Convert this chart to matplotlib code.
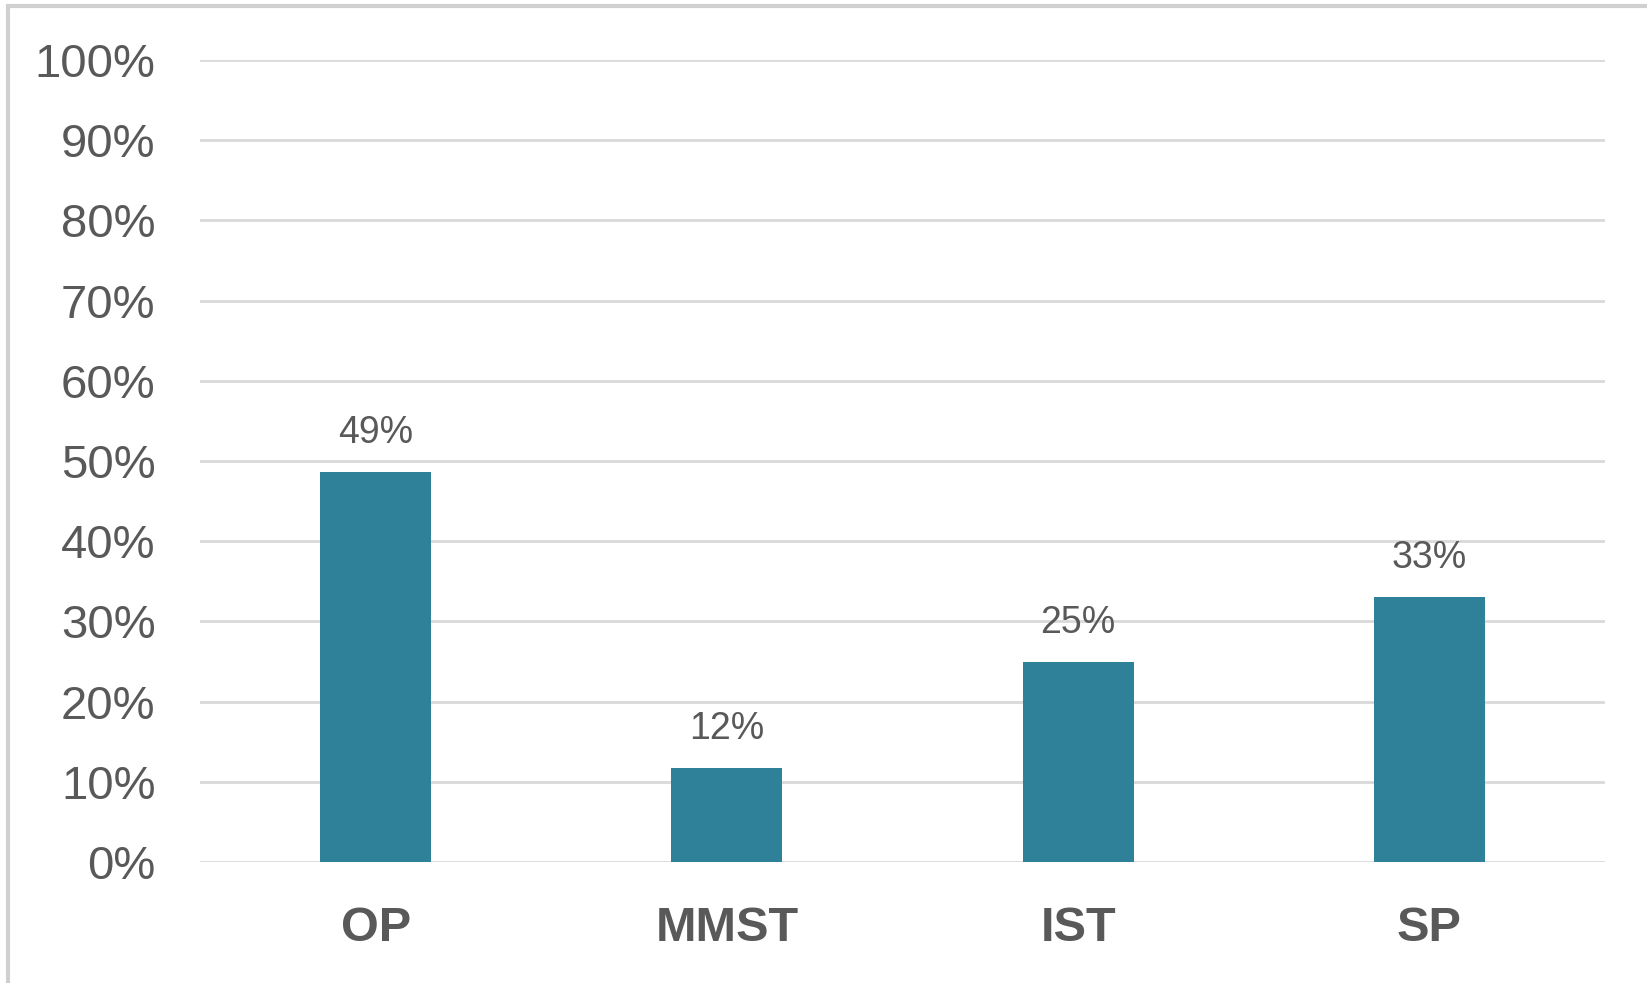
import matplotlib.pyplot as plt
from matplotlib import font_manager
from matplotlib.patches import Rectangle

categories = ['OP', 'MMST', 'IST', 'SP']
shares = [0.486, 0.117, 0.249, 0.330]
yticks = [0.0, 0.1, 0.2, 0.3, 0.4, 0.5, 0.6, 0.7, 0.8, 0.9, 1.0]

installed = {f.name for f in font_manager.fontManager.ttflist}
narrow = 'Liberation Sans Narrow' if 'Liberation Sans Narrow' in installed else 'Liberation Sans'

bar_color = '#2e8199'
text_color = '#595959'
grid_color = '#d9d9d9'

fig = plt.figure(figsize=(16.47, 9.83), dpi=100)
ax = fig.add_axes([0.1214, 0.1231, 0.8531, 0.8159])

x = range(len(categories))
bars = ax.bar(x, shares, width=0.316, color=bar_color, zorder=3)

for b, v in zip(bars, shares):
    ax.annotate(f'{v * 100:.0f}%', (b.get_x() + b.get_width() / 2, v),
                xytext=(0, 15), textcoords='offset points', ha='center', va='bottom',
                fontsize=27, color=text_color, family=narrow)

ax.set_xlim(-0.5, 3.5)
ax.set_ylim(0, 1)
ax.set_yticks(yticks)
ax.set_yticklabels([f'{t * 100:.0f}%' for t in yticks], fontsize=34,
                   color=text_color, family=narrow)
ax.set_xticks(list(x))
ax.set_xticklabels(categories, fontsize=35, fontweight='bold',
                   color=text_color, family='Liberation Sans')
ax.tick_params(axis='y', length=0, pad=32)
ax.tick_params(axis='x', length=0, pad=32)
ax.yaxis.grid(True, color=grid_color, linewidth=2, zorder=0)
for s in ax.spines.values():
    s.set_visible(False)

# outer frame of the chart area (left and top visible)
fig.patches.append(Rectangle((8 / 1647, -0.05), 1.2, 1 - 6 / 983 + 0.05,
                             transform=fig.transFigure, fill=False,
                             edgecolor='#d0d0d0', linewidth=3))

fig.savefig('out.png', dpi=100)
